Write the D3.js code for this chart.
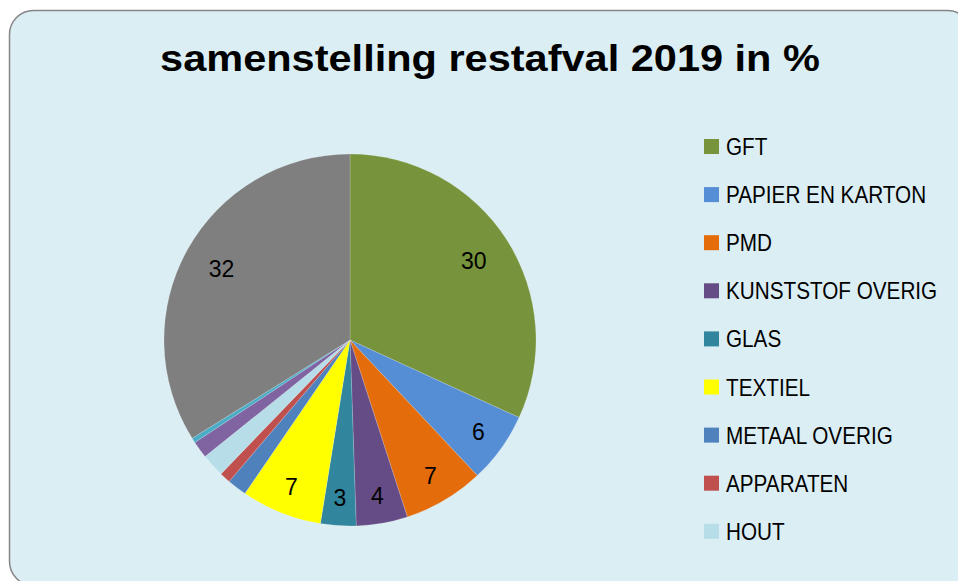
<!DOCTYPE html>
<html>
<head>
<meta charset="utf-8">
<script src="https://cdn.jsdelivr.net/npm/d3@7"></script>
<style>
html,body{margin:0;padding:0;background:#fff;}
svg{display:block;}
</style>
</head>
<body>
<svg id="chart" width="958" height="581"></svg>
<script>
// ---- data ----
const titleText = "samenstelling restafval 2019 in %";
const categories = ["GFT","PAPIER EN KARTON","PMD","KUNSTSTOF OVERIG","GLAS","TEXTIEL","METAAL OVERIG","APPARATEN","HOUT","OVERIG A","OVERIG B","OVERIG C"];
const values = [30.0, 5.8, 6.6, 4.2, 2.9, 6.6, 1.6, 0.9, 1.9, 1.4, 0.4, 31.9];
const colors = ["#77933C","#558ED5","#E46C0A","#664C86","#31859C","#FFFF00","#4F81BD","#C0504D","#B7DEE8","#8064A2","#4BACC6","#7F7F7F"];
const legendCount = 9; // legend in the reference only shows the first nine entries
const labelMin = 2.5;  // slices smaller than this carry no data label

const svg = d3.select("#chart");

// frame
svg.append("rect")
  .attr("x", 9.5).attr("y", 10.5)
  .attr("width", 962).attr("height", 575)
  .attr("rx", 24).attr("ry", 24)
  .attr("fill", "#DBEEF4")
  .attr("stroke", "#868686").attr("stroke-width", 1.5);

// title (horizontally condensed to mimic Calibri proportions)
const tg = svg.append("g").attr("transform", "translate(490,71)");
const title = tg.append("text")
  .attr("text-anchor", "middle")
  .attr("font-family", "Liberation Sans, Arial, sans-serif")
  .attr("font-weight", "bold")
  .attr("font-size", 37)
  .attr("fill", "#000")
  .text(titleText);
const tw = title.node().getComputedTextLength();
tg.attr("transform", `translate(490,71) scale(${660 / tw},1)`);

// pie
const cx = 350, cy = 340, r = 186;
const pie = d3.pie().sort(null).value(d => d.v);
const data = categories.map((c, i) => ({c, v: values[i], col: colors[i]}));
const arcs = pie(data);
const arc = d3.arc().innerRadius(0).outerRadius(r);
const labelArc = d3.arc().innerRadius(r * 0.85).outerRadius(r * 0.85);
const labelArcBig = d3.arc().innerRadius(r * 0.79).outerRadius(r * 0.79);

const g = svg.append("g").attr("transform", `translate(${cx},${cy})`);
g.selectAll("path.slice").data(arcs).join("path")
  .attr("class", "slice")
  .attr("d", arc)
  .attr("fill", d => d.data.col)
  .attr("stroke", "rgba(255,255,255,0.35)")
  .attr("stroke-width", 0.5);

g.selectAll("text.lbl").data(arcs.filter(d => d.data.v >= labelMin)).join("text")
  .attr("class", "lbl")
  .attr("transform", d => `translate(${(d.data.v > 20 ? labelArcBig : labelArc).centroid(d)})`)
  .attr("text-anchor", "middle")
  .attr("dominant-baseline", "central")
  .attr("font-family", "Liberation Sans, Arial, sans-serif")
  .attr("font-size", 23)
  .attr("fill", "#000")
  .text(d => d3.format(".0f")(d.data.v));

// legend
const legend = svg.append("g");
const lx = 704, ly = 139, step = 48.1;
const items = data.slice(0, legendCount);
const li = legend.selectAll("g").data(items).join("g")
  .attr("transform", (d, i) => `translate(${lx},${ly + i * step})`);
li.append("rect").attr("width", 15).attr("height", 15).attr("fill", d => d.col);
li.append("g")
  .attr("transform", "translate(22,16) scale(0.9,1)")
  .append("text")
  .attr("font-family", "Liberation Sans, Arial, sans-serif")
  .attr("font-size", 23)
  .attr("fill", "#000")
  .text(d => d.c);
</script>
</body>
</html>
